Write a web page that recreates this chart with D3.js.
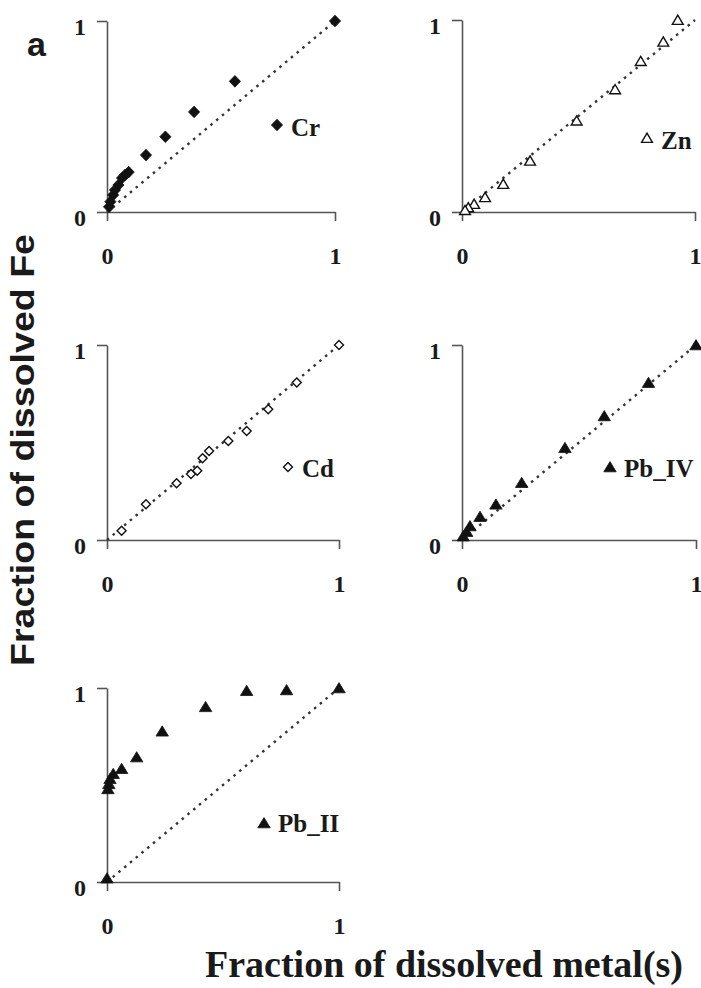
<!DOCTYPE html>
<html>
<head>
<meta charset="utf-8">
<script src="https://cdn.jsdelivr.net/npm/d3@7"></script>
<style>
  html, body { margin: 0; padding: 0; background: #fff; }
  svg { display: block; }
</style>
</head>
<body>
<svg id="chart" width="701" height="988"></svg>
<script>
// ---- data (fraction of dissolved metal x, fraction of dissolved Fe y) ----
const tickValues = [0, 1];
const tickLabels = ["0", "1"];

const crX = [1.0, 0.561, 0.382, 0.256, 0.171, 0.095, 0.079, 0.066, 0.050, 0.035, 0.027, 0.015, 0.009];
const crY = [1.0, 0.684, 0.524, 0.394, 0.298, 0.209, 0.194, 0.178, 0.141, 0.115, 0.089, 0.054, 0.027];

const znX = [0.926, 0.864, 0.767, 0.657, 0.492, 0.292, 0.177, 0.099, 0.052, 0.027, 0.013];
const znY = [1.0, 0.887, 0.786, 0.639, 0.476, 0.267, 0.146, 0.077, 0.042, 0.024, 0.010];

const cdX = [1.0, 0.818, 0.695, 0.602, 0.523, 0.440, 0.412, 0.389, 0.362, 0.300, 0.168, 0.063];
const cdY = [1.0, 0.808, 0.671, 0.559, 0.508, 0.456, 0.419, 0.355, 0.338, 0.291, 0.183, 0.048];

const pb4X = [1.0, 0.797, 0.608, 0.440, 0.255, 0.145, 0.077, 0.034, 0.020, 0.005];
const pb4Y = [1.0, 0.807, 0.636, 0.473, 0.294, 0.183, 0.120, 0.072, 0.043, 0.020];

const pb2X = [1.0, 0.774, 0.602, 0.425, 0.238, 0.128, 0.063, 0.027, 0.013, 0.008, 0.004, 0.0];
const pb2Y = [1.0, 0.990, 0.986, 0.903, 0.777, 0.644, 0.584, 0.558, 0.532, 0.506, 0.480, 0.02];

const seriesNames = ["Cr", "Zn", "Cd", "Pb_IV", "Pb_II"];
const lineX = [0, 1];   // 1:1 reference line
const lineY = [0, 1];

// ---- layout ----
const panels = [
  { name: "Cr",    xs: crX,  ys: crY,  shape: "diamond",  filled: true,  left: 107, right: 335, top: 21,  bottom: 212, legX: 277, legY: 125, txtY: 136 },
  { name: "Zn",    xs: znX,  ys: znY,  shape: "triangle", filled: false, left: 462, right: 695, top: 20,  bottom: 212, legX: 647, legY: 138, txtY: 149 },
  { name: "Cd",    xs: cdX,  ys: cdY,  shape: "diamondS", filled: false, left: 107, right: 339, top: 345, bottom: 540, legX: 288, legY: 467, txtY: 477 },
  { name: "Pb_IV", xs: pb4X, ys: pb4Y, shape: "triangleF",filled: true,  left: 462, right: 696, top: 345, bottom: 540, legX: 610, legY: 467, txtY: 477 },
  { name: "Pb_II", xs: pb2X, ys: pb2Y, shape: "triangleF",filled: true,  left: 107, right: 339, top: 688, bottom: 882, legX: 264, legY: 823, txtY: 832 }
];

const svg = d3.select("#chart");
const serif = "'Liberation Serif', 'Times New Roman', serif";
const sans = "'Liberation Sans', Arial, sans-serif";
const axisColor = "#555";
const ink = "#1a1a1a";

function markerPath(shape) {
  if (shape === "diamond") return "M0,-5.8L5.6,0L0,5.8L-5.6,0Z";
  if (shape === "diamondS") return "M0,-4.5L4.5,0L0,4.5L-4.5,0Z";
  if (shape === "triangle") return "M0,-4.8L5.4,4.4L-5.4,4.4Z";
  return "M0,-5.4L6.2,4.8L-6.2,4.8Z";
}

panels.forEach(p => {
  const x = d3.scaleLinear().domain([0, 1]).range([p.left, p.right]);
  const y = d3.scaleLinear().domain([0, 1]).range([p.bottom, p.top]);
  const g = svg.append("g");

  // axes
  const ax = g.append("g").attr("transform", `translate(0,${p.bottom})`)
    .call(d3.axisBottom(x).tickValues(tickValues).tickFormat((d, i) => tickLabels[i])
      .tickSize(9).tickSizeOuter(0).tickPadding(26));
  const ay = g.append("g").attr("transform", `translate(${p.left},0)`)
    .call(d3.axisLeft(y).tickValues(tickValues).tickFormat((d, i) => tickLabels[i])
      .tickSize(10).tickSizeOuter(0).tickPadding(11));
  [ax, ay].forEach(a => {
    a.select(".domain").attr("stroke", axisColor).attr("stroke-width", 1.6);
    a.selectAll(".tick line").attr("stroke", axisColor).attr("stroke-width", 1.6);
    a.selectAll(".tick text").attr("fill", ink)
      .style("font-family", serif).style("font-weight", "bold").style("font-size", "24px");
  });
  ay.selectAll(".tick text").attr("dy", "0.55em");

  // 1:1 dotted line
  const line = d3.line().x(d => x(d[0])).y(d => y(d[1]));
  g.append("path").datum(lineX.map((v, i) => [v, lineY[i]]))
    .attr("d", line).attr("fill", "none").attr("stroke", "#333")
    .attr("stroke-width", 2.4).attr("stroke-dasharray", "2.5,5");

  // points
  const pts = p.xs.map((v, i) => [v, p.ys[i]]);
  g.selectAll("path.pt").data(pts).enter().append("path").attr("class", "pt")
    .attr("transform", d => `translate(${x(d[0])},${y(d[1])})`)
    .attr("d", markerPath(p.shape))
    .attr("fill", p.filled ? "#111" : "#fff")
    .attr("stroke", "#111").attr("stroke-width", p.filled ? 0.8 : 1.4);

  // legend
  g.append("path").attr("transform", `translate(${p.legX},${p.legY})`)
    .attr("d", markerPath(p.shape))
    .attr("fill", p.filled ? "#111" : "#fff")
    .attr("stroke", "#111").attr("stroke-width", p.filled ? 0.8 : 1.4);
  g.append("text").attr("x", p.legX + 14).attr("y", p.txtY)
    .text(p.name).attr("fill", ink)
    .style("font-family", serif).style("font-weight", "bold").style("font-size", "25px");
});

// panel letter
svg.append("text").attr("x", 27).attr("y", 56).text("a")
  .attr("fill", ink).style("font-family", sans).style("font-weight", "bold").style("font-size", "34px");

// y title
svg.append("text").attr("transform", "translate(34,450) rotate(-90)")
  .attr("text-anchor", "middle").text("Fraction of dissolved Fe")
  .attr("textLength", 432).attr("lengthAdjust", "spacingAndGlyphs")
  .attr("fill", ink).style("font-family", sans).style("font-weight", "bold").style("font-size", "33px");

// x title
svg.append("text").attr("x", 444).attr("y", 977)
  .attr("text-anchor", "middle").text("Fraction of dissolved metal(s)")
  .attr("textLength", 478).attr("lengthAdjust", "spacingAndGlyphs")
  .attr("fill", ink).style("font-family", serif).style("font-weight", "bold").style("font-size", "38px");
</script>
</body>
</html>
